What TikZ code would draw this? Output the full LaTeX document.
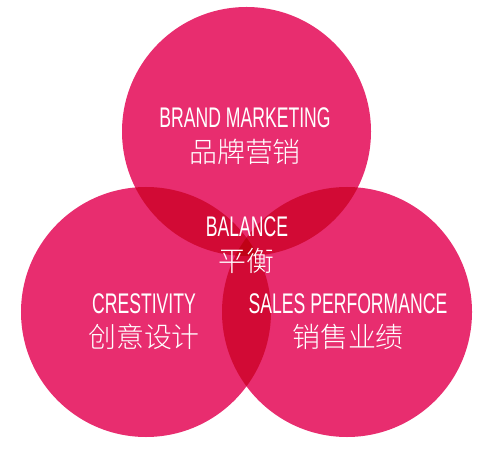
\documentclass[tikz,border=0pt]{standalone}
\usepackage{fontspec}
\setmainfont[FakeStretch=0.62]{Liberation Sans}
\newfontfamily\cjk{Noto Sans CJK SC Light}
\definecolor{pinkA}{HTML}{E82D6F}
\definecolor{pinkB}{HTML}{D20A35}
\definecolor{pinkC}{HTML}{C00216}
\tikzset{
  entext/.style={text=white, anchor=base, inner sep=0pt, font=\fontsize{28.5}{30}\selectfont},
  zhtext/.style={text=white, anchor=base, inner sep=0pt, font=\cjk\fontsize{28}{30}\selectfont},
}
\begin{document}
\begin{tikzpicture}[x=1bp,y=-1bp]
\useasboundingbox (0,0) rectangle (500,460);
\coordinate (T) at (246.5,131.5);
\coordinate (L) at (146,312);
\coordinate (R) at (347,312);
\def\rT{124.5bp}
\def\rL{125bp}
\def\rR{125bp}
\fill[pinkA] (T) circle[radius=\rT];
\fill[pinkA] (L) circle[radius=\rL];
\fill[pinkA] (R) circle[radius=\rR];
\begin{scope}
  \clip (T) circle[radius=\rT];
  \fill[pinkB] (L) circle[radius=\rL];
  \fill[pinkB] (R) circle[radius=\rR];
\end{scope}
\begin{scope}
  \clip (L) circle[radius=\rL];
  \fill[pinkB] (R) circle[radius=\rR];
\end{scope}
\begin{scope}
  \clip (T) circle[radius=\rT];
  \clip (L) circle[radius=\rL];
  \fill[pinkC] (R) circle[radius=\rR];
\end{scope}
\node[entext] (bm) at (245,128) {BRAND MARKETING};
\node[zhtext] (bmz) at (245,163) {品牌营销};
\node[entext] (ba) at (247,237) {BALANCE};
\node[zhtext] (baz) at (246,271) {平衡};
\node[entext] (cr) at (144,313) {CRESTIVITY};
\node[zhtext] (crz) at (144,347) {创意设计};
\node[entext] (sp) at (348,313) {SALES PERFORMANCE};
\node[zhtext] (spz) at (348,347) {销售业绩};
\end{tikzpicture}
\end{document}
